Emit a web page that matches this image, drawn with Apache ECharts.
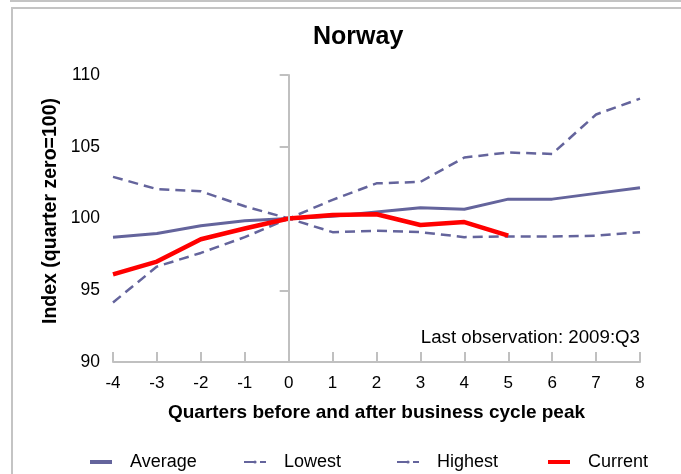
<!DOCTYPE html>
<html>
<head>
<meta charset="utf-8">
<script src="https://cdn.jsdelivr.net/npm/echarts@6/dist/echarts.min.js"></script>
<style>
html,body{margin:0;padding:0;background:#fff;}
#chart{width:681px;height:474px;}
</style>
</head>
<body>
<div id="chart"></div>
<script>
var quarters = [-4, -3, -2, -1, 0, 1, 2, 3, 4, 5, 6, 7, 8];
var average = [98.7, 98.95, 99.5, 99.85, 100, 100.15, 100.45, 100.75, 100.65, 101.35, 101.35, 101.75, 102.15];
var lowest = [102.9, 102.05, 101.9, 100.85, 100, 99.05, 99.15, 99.05, 98.7, 98.75, 98.75, 98.8, 99.05];
var highest = [94.15, 96.65, 97.6, 98.7, 100, 101.3, 102.45, 102.55, 104.25, 104.6, 104.5, 107.25, 108.35];
var current = [96.1, 97.0, 98.55, 99.3, 100, 100.25, 100.3, 99.55, 99.75, 98.8];
var seriesNames = ['Average', 'Lowest', 'Highest', 'Current'];

function pairs(vals) {
  return vals.map(function (v, i) { return [quarters[i], v]; });
}

var FONT = '"Liberation Sans", Arial, sans-serif';
var LINE = '#64649c';
var AXIS = '#c0c0c0';

var chart = echarts.init(document.getElementById('chart'), null, {renderer: 'canvas'});

function legendAt(name, left, solid) {
  return {
    data: [solid ? {name: name, icon: 'rect'} : name],
    left: left,
    top: 453,
    itemWidth: 22,
    itemHeight: 4,
    padding: 0,
    selectedMode: false,
    textStyle: {fontFamily: FONT, fontSize: 18, color: '#000', padding: [0, 0, 0, 13]}
  };
}

chart.setOption({
  animation: false,
  backgroundColor: '#fff',
  title: {
    text: 'Norway',
    left: 308,
    top: 20,
    textStyle: {fontFamily: FONT, fontSize: 25, fontWeight: 'bold', color: '#000'}
  },
  legend: [
    legendAt(seriesNames[0], 90, true),
    legendAt(seriesNames[1], 243, false),
    legendAt(seriesNames[2], 396, false),
    legendAt(seriesNames[3], 548, true)
  ],
  grid: {left: 113, right: 41, top: 75, bottom: 112, containLabel: false},
  xAxis: {
    type: 'value',
    min: -4, max: 8, interval: 1,
    name: 'Quarters before and after business cycle peak',
    nameLocation: 'middle',
    nameGap: 41,
    nameTextStyle: {fontFamily: FONT, fontSize: 19, fontWeight: 'bold', color: '#000'},
    axisLine: {show: true, onZero: false, lineStyle: {color: AXIS, width: 2}},
    axisTick: {show: true, inside: true, length: 10, lineStyle: {color: AXIS, width: 2}},
    axisLabel: {fontFamily: FONT, fontSize: 17, color: '#000', margin: 13},
    splitLine: {show: false}
  },
  yAxis: {
    type: 'value',
    min: 90, max: 110, interval: 5,
    axisLine: {show: true, lineStyle: {color: AXIS, width: 2}},
    axisTick: {show: true, inside: false, length: 9, lineStyle: {color: AXIS, width: 2}},
    axisLabel: {fontFamily: FONT, fontSize: 17.5, color: '#000', margin: 13},
    splitLine: {show: false}
  },
  graphic: [
    {type: 'line', shape: {x1: 10, y1: 1, x2: 681, y2: 1}, style: {stroke: '#c4c4c4', lineWidth: 2}, silent: true},
    {type: 'line', shape: {x1: 11, y1: 8, x2: 681, y2: 8}, style: {stroke: '#c4c4c4', lineWidth: 2}, silent: true},
    {type: 'line', shape: {x1: 12, y1: 8, x2: 12, y2: 474}, style: {stroke: '#c4c4c4', lineWidth: 2}, silent: true},
    {type: 'text', x: 51, y: 211, rotation: Math.PI / 2,
      style: {text: 'Index (quarter zero=100)', font: 'bold 19.5px ' + FONT, fill: '#000', textAlign: 'center', textVerticalAlign: 'middle'}},
    {type: 'text', x: 640, y: 338,
      style: {text: 'Last observation: 2009:Q3', font: '18.7px ' + FONT, fill: '#000', textAlign: 'right', textVerticalAlign: 'middle'}}
  ],
  series: [
    {
      name: seriesNames[0], type: 'line', data: pairs(average), symbol: 'none',
      lineStyle: {color: LINE, width: 3}, itemStyle: {color: LINE}, z: 3,
      markLine: {
        silent: true, symbol: ['none', 'none'], label: {show: false},
        lineStyle: {color: AXIS, width: 2, type: 'solid'},
        data: [{xAxis: 0}]
      }
    },
    {
      name: seriesNames[1], type: 'line', data: pairs(lowest), symbol: 'none',
      lineStyle: {color: LINE, width: 2.5, type: [10, 6]}, itemStyle: {color: LINE}, z: 3
    },
    {
      name: seriesNames[2], type: 'line', data: pairs(highest), symbol: 'none',
      lineStyle: {color: LINE, width: 2.5, type: [10, 6]}, itemStyle: {color: LINE}, z: 3
    },
    {
      name: seriesNames[3], type: 'line', data: pairs(current), symbol: 'none',
      lineStyle: {color: '#ff0000', width: 4.5}, itemStyle: {color: '#ff0000'}, z: 4
    }
  ]
});
</script>
</body>
</html>
